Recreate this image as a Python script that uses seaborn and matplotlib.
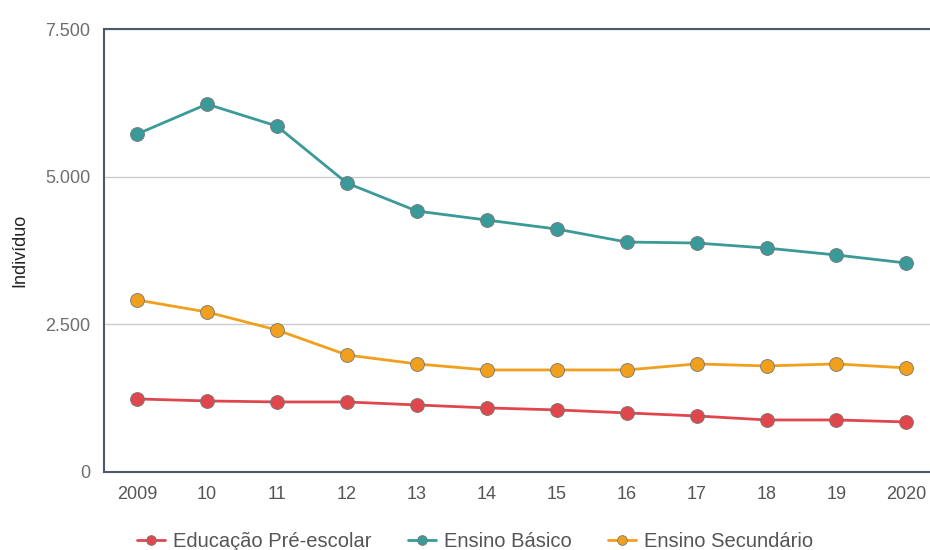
import numpy as np
import pandas as pd
import seaborn as sns
import matplotlib
matplotlib.use('Agg')
import matplotlib.pyplot as plt
from matplotlib.ticker import FuncFormatter

# data
years = ['2009', '10', '11', '12', '13', '14', '15', '16', '17', '18', '19', '2020']
pre_escolar = [1236, 1202, 1185, 1185, 1134, 1084, 1050, 999, 948, 880, 880, 846]
basico = [5722, 6230, 5858, 4893, 4419, 4266, 4114, 3894, 3877, 3792, 3674, 3538]
secundario = [2912, 2709, 2404, 1981, 1829, 1727, 1727, 1727, 1829, 1795, 1829, 1761]
series_names = ['Educação Pré-escolar', 'Ensino Básico', 'Ensino Secundário']
colors = ['#e0474c', '#3a9a99', '#f0a01c']

df = pd.DataFrame({
    'ano': list(range(len(years))) * 3,
    'valor': pre_escolar + basico + secundario,
    'serie': [s for s in series_names for _ in years],
})

sns.set_style("white")
plt.rcParams['font.family'] = ['Liberation Sans', 'DejaVu Sans']

fig = plt.figure(figsize=(9.3, 5.5), dpi=100)
ax = fig.add_axes([0.112, 0.142, 0.898, 0.805])

sns.lineplot(data=df, x='ano', y='valor', hue='serie', palette=colors,
             marker='o', markersize=10, markeredgecolor='#777777', markeredgewidth=0.6,
             linewidth=2, ax=ax)

ax.set_xlim(-0.47, 11.47)
ax.set_ylim(0, 7500)
ax.set_yticks([0, 2500, 5000, 7500])
ax.yaxis.set_major_formatter(FuncFormatter(lambda v, p: '{:,.0f}'.format(v).replace(',', '.')))
ax.set_xticks(range(len(years)))
ax.set_xticklabels(years)
ax.grid(axis='y', color='#cccccc', linewidth=1)
ax.set_axisbelow(True)
ax.tick_params(axis='both', colors='#6e6e6e', labelsize=13, length=0, pad=10)
ax.tick_params(axis='x', labelcolor='#555555')
ax.set_xlabel('')
ax.set_ylabel('Indivíduo', fontsize=13, color='#222222', labelpad=12)

for side in ['left', 'top', 'bottom']:
    ax.spines[side].set_color('#4a5a6a')
    ax.spines[side].set_linewidth(1.5)
ax.spines['right'].set_visible(False)

handles, labels = ax.get_legend_handles_labels()
ax.legend(handles, labels, loc='upper center', bbox_to_anchor=(0.444, -0.095), ncol=3,
          frameon=False, fontsize=14.5, labelcolor='#555555', handlelength=1.4,
          columnspacing=1.8, handletextpad=0.4, markerscale=0.7)

fig.savefig('out.png', dpi=100)
